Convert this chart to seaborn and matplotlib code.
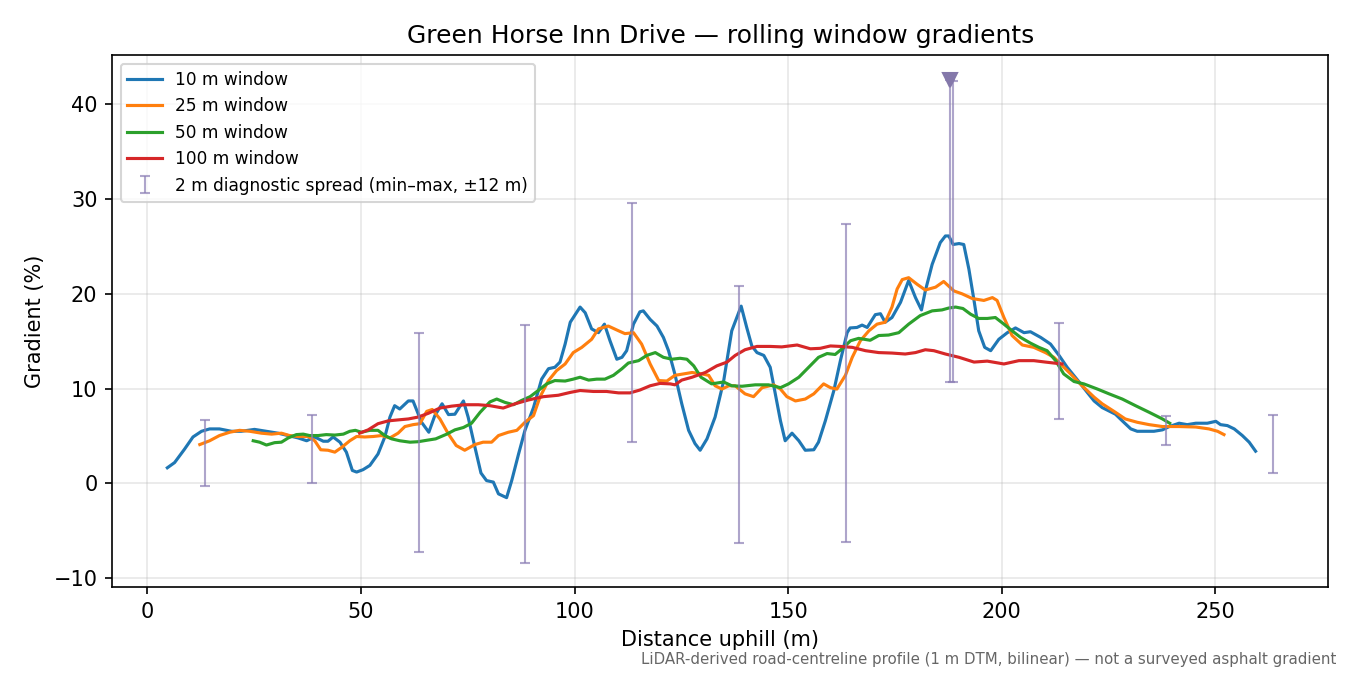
import matplotlib
matplotlib.use("Agg")
import matplotlib.pyplot as plt
import seaborn as sns
import numpy as np

# ---- data ----
x10 = [4.7, 6.4, 8.7, 10.7, 12.7, 14.6, 16.9, 19.7, 22.0, 25.1, 27.9, 30.6, 33.0, 35.3, 37.3, 39.2,
       41.2, 42.3, 43.5, 45.1, 46.6, 48.0, 49.0, 50.5, 52.1, 54.0, 55.6, 56.8, 57.9, 59.1, 61.1, 62.2,
       64.2, 65.9, 67.3, 69.0, 70.5, 72.0, 74.0, 75.1, 76.7, 78.1, 79.4, 81.0, 82.2, 84.1, 85.3, 86.9,
       88.4, 90.4, 92.3, 93.9, 95.4, 96.6, 97.8, 99.0, 101.3, 102.5, 104.0, 105.6, 107.0, 108.3, 109.9,
       111.1, 112.2, 113.8, 115.3, 116.1, 117.7, 119.3, 120.8, 122.0, 123.5, 125.1, 126.7, 128.2, 129.4,
       131.0, 132.9, 134.9, 136.8, 139.0, 140.3, 141.5, 142.7, 144.3, 145.8, 147.0, 148.2, 149.3, 150.9,
       152.5, 154.0, 156.0, 157.1, 158.7, 160.7, 162.2, 163.8, 164.5, 166.1, 167.3, 168.5, 170.4, 171.6,
       172.7, 174.3, 176.3, 178.2, 179.8, 181.2, 182.1, 183.7, 185.6, 186.8, 187.6, 188.6, 190.0, 191.1,
       192.3, 193.5, 194.6, 196.0, 197.4, 199.3, 201.3, 203.2, 205.2, 206.7, 209.1, 211.4, 213.4, 215.3,
       218.1, 220.0, 221.6, 223.5, 226.6, 228.2, 230.2, 231.7, 234.1, 235.6, 237.6, 239.2, 241.5, 243.4,
       245.4, 248.1, 250.1, 251.2, 252.8, 254.4, 256.3, 257.9, 259.4]
g10 = [1.65, 2.2, 3.6, 4.9, 5.5, 5.75, 5.75, 5.5, 5.5, 5.7, 5.5, 5.3, 5.05, 4.8, 4.5, 4.9,
       4.45, 4.45, 4.9, 4.35, 3.3, 1.37, 1.2, 1.45, 1.9, 3.1, 4.9, 7.0, 8.2, 7.85, 8.7, 8.7,
       6.45, 5.4, 7.15, 8.4, 7.26, 7.3, 8.7, 7.0, 3.8, 1.1, 0.3, 0.14, -1.1, -1.5, 0.3, 3.1,
       5.6, 8.0, 11.0, 12.1, 12.25, 12.8, 14.7, 17.0, 18.6, 18.0, 16.3, 15.9, 16.8, 15.05, 13.1,
       13.3, 14.0, 16.8, 18.1, 18.2, 17.3, 16.6, 15.4, 14.0, 11.5, 8.4, 5.6, 4.2, 3.5,
       4.7, 7.0, 10.8, 16.1, 18.7, 16.45, 14.5, 13.8, 13.5, 12.25, 9.4, 6.6, 4.5, 5.3,
       4.5, 3.5, 3.55, 4.35, 6.6, 9.8, 12.9, 15.9, 16.4, 16.45, 16.7, 16.45, 17.8, 17.9,
       17.0, 17.5, 19.1, 21.4, 19.6, 18.3, 20.3, 23.1, 25.4, 26.1, 26.1, 25.2, 25.3, 25.2,
       22.6, 19.3, 16.1, 14.35, 14.0, 15.2, 15.9, 16.4, 15.9, 16.0, 15.4, 14.7, 13.5, 12.25,
       10.7, 9.6, 8.7, 8.0, 7.3, 6.6, 5.75, 5.5, 5.5, 5.5, 5.65, 6.0, 6.35, 6.2,
       6.35, 6.35, 6.55, 6.2, 6.1, 5.75, 5.05, 4.35, 3.4]

x25 = [12.3, 14.6, 16.9, 19.3, 21.6, 24.0, 26.7, 29.1, 31.4, 33.3, 35.3, 37.7, 39.2, 40.6, 42.3, 43.9,
       45.5, 47.4, 49.0, 50.9, 52.9, 54.8, 56.8, 58.7, 60.3, 62.2, 63.8, 65.4, 66.7, 68.5, 70.5, 72.3,
       74.3, 76.7, 78.6, 80.6, 82.2, 84.5, 86.5, 88.4, 90.4, 91.9, 93.9, 95.8, 97.8, 99.7, 101.7, 104.0,
       105.6, 107.9, 110.3, 111.8, 113.8, 115.7, 117.7, 119.7, 121.6, 123.5, 125.5, 127.5, 129.8, 131.4,
       132.9, 134.5, 136.1, 137.6, 139.9, 141.9, 143.9, 146.6, 148.2, 149.7, 151.7, 154.0, 156.0, 158.3,
       159.9, 161.4, 163.4, 165.0, 166.9, 168.9, 170.8, 172.7, 174.3, 175.5, 176.7, 178.2, 180.2, 182.1,
       184.5, 186.4, 188.8, 190.7, 193.1, 195.8, 197.8, 198.9, 200.5, 202.4, 204.8, 207.5, 210.2, 212.2,
       214.2, 216.1, 218.8, 221.6, 223.5, 226.6, 228.9, 231.7, 234.5, 237.6, 241.5, 245.4, 248.5, 250.5,
       252.0]
g25 = [4.1, 4.5, 5.05, 5.4, 5.6, 5.5, 5.3, 5.2, 5.3, 5.05, 4.95, 4.95, 4.5, 3.55, 3.5, 3.3,
       3.8, 4.5, 4.95, 4.9, 4.95, 5.05, 4.8, 5.3, 6.0, 6.2, 6.3, 7.6, 7.8, 6.8, 5.2, 4.0,
       3.5, 4.1, 4.35, 4.35, 5.05, 5.4, 5.6, 6.45, 7.15, 9.1, 10.85, 11.9, 12.6, 13.8, 14.35, 15.2,
       16.3, 16.6, 16.1, 15.8, 15.9, 14.7, 12.6, 10.85, 10.8, 11.4, 11.55, 11.7, 11.55, 11.4,
       10.3, 9.95, 10.3, 10.3, 9.45, 9.15, 10.1, 10.4, 9.95, 9.15, 8.7, 8.9, 9.45, 10.5,
       10.1, 9.95, 11.4, 13.3, 15.05, 16.1, 16.8, 17.0, 18.6, 20.5, 21.5, 21.7, 21.0, 20.4,
       20.7, 21.3, 20.3, 20.0, 19.5, 19.3, 19.6, 19.3, 17.5, 15.6, 14.6, 14.35, 13.8, 13.3,
       12.4, 11.55, 10.3, 9.1, 8.4, 7.5, 6.8, 6.45, 6.2, 6.0, 6.0, 5.95, 5.75, 5.5,
       5.15]

x50 = [24.8, 26.3, 27.9, 29.8, 31.4, 33.0, 34.9, 36.5, 38.0, 40.0, 41.9, 43.9, 45.9, 47.4, 48.7, 50.1,
       52.1, 54.0, 55.6, 57.2, 59.1, 61.5, 63.4, 65.4, 67.5, 70.1, 72.0, 74.0, 75.9, 77.9, 80.2, 81.8,
       83.7, 85.7, 87.6, 89.6, 91.5, 93.5, 95.4, 97.8, 99.7, 101.3, 103.3, 105.2, 107.1, 109.1, 111.1,
       112.6, 115.0, 116.9, 118.9, 120.8, 122.8, 124.7, 126.3, 127.9, 129.6, 132.1, 134.9, 136.8, 139.2,
       142.3, 145.4, 148.2, 150.1, 152.5, 154.8, 157.1, 159.1, 161.0, 162.6, 164.6, 166.5, 169.2, 171.2,
       173.5, 175.9, 178.2, 180.9, 183.7, 186.0, 187.6, 189.2, 190.9, 192.7, 194.6, 196.6, 198.5, 200.5,
       202.4, 204.4, 206.7, 208.7, 210.6, 212.6, 214.5, 216.9, 219.2, 222.4, 225.1, 228.2, 231.3, 234.5,
       237.6, 239.3]
g50 = [4.5, 4.35, 4.05, 4.3, 4.35, 4.8, 5.15, 5.2, 5.05, 5.05, 5.15, 5.1, 5.2, 5.5, 5.6, 5.4,
       5.6, 5.6, 5.05, 4.7, 4.5, 4.35, 4.4, 4.55, 4.7, 5.2, 5.65, 5.9, 6.35, 7.5, 8.6, 8.9,
       8.55, 8.3, 8.75, 9.15, 9.8, 10.5, 10.85, 10.8, 11.0, 11.2, 10.9, 11.0, 11.0, 11.4, 12.1,
       12.7, 12.95, 13.5, 13.8, 13.3, 13.1, 13.2, 13.1, 12.4, 11.2, 10.5, 10.7, 10.3, 10.25,
       10.4, 10.4, 10.1, 10.5, 11.2, 12.25, 13.3, 13.7, 13.6, 14.2, 15.05, 15.3, 15.1, 15.6,
       15.65, 15.9, 16.8, 17.7, 18.2, 18.3, 18.5, 18.6, 18.45, 17.85, 17.4, 17.4, 17.5, 16.8,
       16.1, 15.4, 14.8, 14.35, 14.0, 12.95, 11.55, 10.75, 10.5, 9.95, 9.45, 8.9, 8.2, 7.5,
       6.8, 6.35]

x100 = [49.7, 51.7, 54.0, 56.4, 58.7, 61.1, 63.4, 65.8, 68.5, 71.2, 74.3, 77.5, 80.2, 83.3, 86.1, 89.2,
        92.7, 96.2, 99.0, 101.3, 104.4, 107.5, 110.3, 113.0, 115.3, 117.7, 120.0, 122.4, 123.5, 125.1,
        127.5, 130.6, 133.3, 135.7, 137.6, 139.9, 142.7, 145.8, 148.5, 152.1, 155.2, 157.5, 159.9, 162.2,
        165.0, 168.1, 171.2, 174.3, 177.4, 179.8, 182.1, 184.1, 186.8, 190.0, 193.5, 196.6, 200.5, 204.0,
        207.5, 210.2, 214.1]
g100 = [5.3, 5.65, 6.3, 6.6, 6.7, 6.8, 7.0, 7.4, 7.95, 8.15, 8.3, 8.3, 8.2, 7.95, 8.4, 8.8,
        9.15, 9.3, 9.6, 9.8, 9.7, 9.7, 9.55, 9.55, 9.85, 10.3, 10.55, 10.5, 10.4, 10.9,
        11.2, 11.7, 12.4, 12.8, 13.5, 14.1, 14.45, 14.45, 14.4, 14.6, 14.2, 14.25, 14.5, 14.45,
        14.35, 14.0, 13.8, 13.75, 13.65, 13.8, 14.1, 14.0, 13.65, 13.3, 12.8, 12.9, 12.6, 12.95,
        12.95, 12.8, 12.6]

# 2 m diagnostic spread (min-max within +/-12 m)
spread_x = [13.5, 38.5, 63.5, 88.5, 113.5, 138.5, 163.5, 187.9, 188.6, 213.5, 238.5, 263.5]
spread_min = [-0.3, 0.0, -7.2, -8.4, 4.4, -6.3, -6.2, 10.7, 10.7, 6.8, 4.1, 1.1]
spread_max = [6.7, 7.2, 15.9, 16.7, 29.6, 20.8, 27.4, 42.6, 42.4, 16.9, 7.1, 7.2]

peak_x = [187.9]
peak_y = [42.6]

series = [
    (x10, g10, "10 m window", "#1f77b4"),
    (x25, g25, "25 m window", "#ff7f0e"),
    (x50, g50, "50 m window", "#2ca02c"),
    (x100, g100, "100 m window", "#d62728"),
]

plt.rcParams['font.family'] = ['DejaVu Sans']
fig, ax = plt.subplots(figsize=(9, 4.5), dpi=150)
fig.subplots_adjust(left=0.083, right=0.984, bottom=0.130, top=0.918)

for xs, ys, lab, col in series:
    sns.lineplot(x=np.array(xs), y=np.array(ys), ax=ax, color=col, label=lab,
                 linewidth=1.5, estimator=None, sort=False)

sx = np.array(spread_x)
smin = np.array(spread_min)
smax = np.array(spread_max)
mid = (smin + smax) / 2
ax.errorbar(sx, mid, yerr=[mid - smin, smax - mid], fmt='none', ecolor='#8c7fb5',
            elinewidth=1.0, capsize=2.5, capthick=1.0, alpha=0.7,
            label="2 m diagnostic spread (min\u2013max, \u00b112 m)")
ax.plot(peak_x, peak_y, marker='v', linestyle='none', color='#8478aa', markersize=6.5)

ax.grid(True, alpha=0.3)
ax.set_xlabel("Distance uphill (m)", fontsize=10)
ax.set_ylabel("Gradient (%)", fontsize=10)
ax.set_title("Green Horse Inn Drive \u2014 rolling window gradients", fontsize=12)
ax.legend(loc='upper left', fontsize=8.2)

fig.text(0.99, 0.012, "LiDAR-derived road-centreline profile (1 m DTM, bilinear) \u2014 not a surveyed asphalt gradient",
         ha='right', va='bottom', fontsize=7.2, color='#666666')

fig.savefig("out.png", dpi=150)
